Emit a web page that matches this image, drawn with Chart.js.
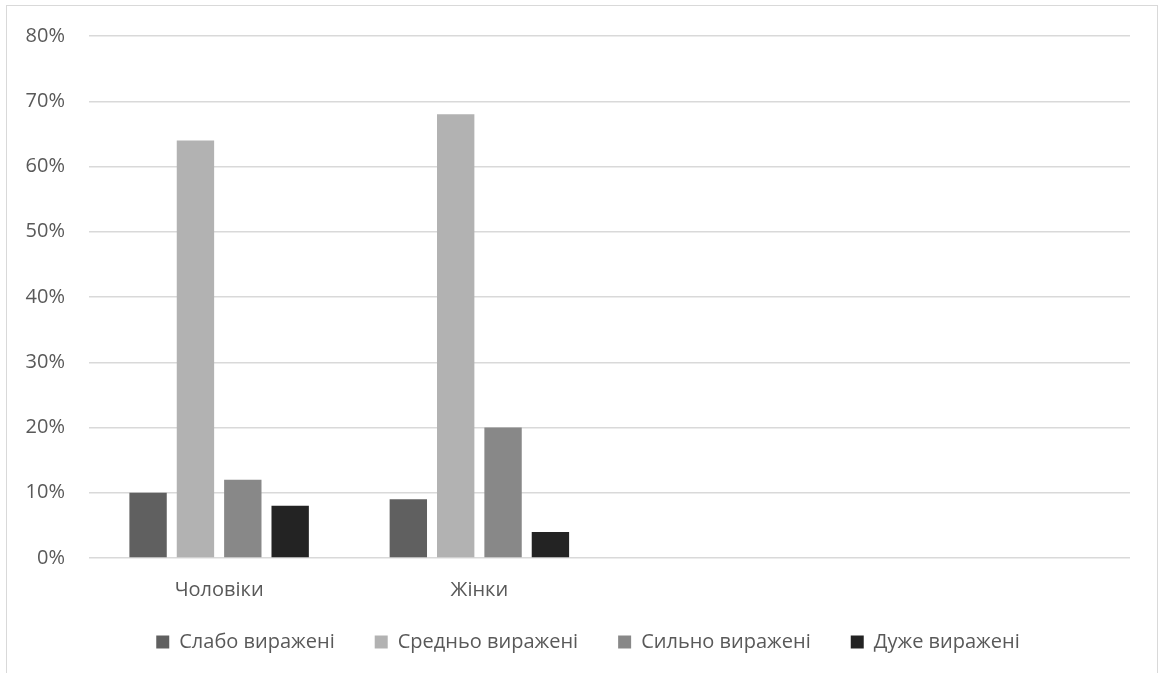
<!DOCTYPE html>
<html>
<head>
<meta charset="utf-8">
<script src="https://cdn.jsdelivr.net/npm/chart.js@4"></script>
<style>
  html, body { margin: 0; padding: 0; background: #ffffff; }
  #wrap { position: relative; width: 1164px; height: 673px; overflow: hidden; }
  #frame { position: absolute; left: 6px; top: 5px; width: 1152px; height: 720px;
           border: 1px solid #d9d9d9; box-sizing: border-box; pointer-events: none; }
  canvas { position: absolute; left: 0; top: 0; }
</style>
</head>
<body>
<div id="wrap">
  <canvas id="c" width="1164" height="673"></canvas>
  <div id="frame"></div>
</div>
<script>
// Groups along the x axis (the last two slots are empty)
const categories = ['Чоловіки', 'Жінки', '', ''];

// Share of respondents per level, in percent
const weak       = [10, 9];
const medium     = [64, 68];
const strong     = [12, 20];
const veryStrong = [8, 4];

const seriesNames = ['Слабо виражені', 'Средньо виражені', 'Сильно виражені', 'Дуже виражені'];
const seriesColors = ['#606060', '#b2b2b2', '#888888', '#232323'];

const yMax = 80;
const yStep = 10;

const textColor = '#595959';
const fontFamily = '"Open Sans", "DejaVu Sans", sans-serif';

const seriesValues = [weak, medium, strong, veryStrong];

// Nudge the legend row after layout so it sits centred under the whole frame
const legendNudge = {
  id: 'legendNudge',
  afterLayout(chart) {
    const lg = chart.legend;
    if (!lg) return;
    lg.left += 13; lg.right += 13;
    lg.top -= 11; lg.bottom -= 11;
  }
};

new Chart(document.getElementById('c'), {
  type: 'bar',
  data: {
    labels: categories,
    datasets: seriesValues.map((vals, i) => ({
      label: seriesNames[i],
      data: vals,
      backgroundColor: seriesColors[i],
      borderWidth: 0,
      categoryPercentage: 0.728,
      barPercentage: 0.789
    }))
  },
  plugins: [legendNudge],
  options: {
    responsive: false,
    animation: false,
    devicePixelRatio: 1,
    layout: { padding: { top: 34, left: 20, right: 34, bottom: 0 } },
    plugins: {
      tooltip: { enabled: false },
      legend: {
        position: 'bottom',
        labels: {
          boxWidth: 13,
          boxHeight: 13,
          padding: 40,
          color: textColor,
          font: { family: fontFamily, size: 20 }
        }
      }
    },
    scales: {
      x: {
        grid: { display: false, drawTicks: false },
        border: { display: false },
        ticks: {
          color: textColor,
          padding: 20,
          maxRotation: 0,
          font: { family: fontFamily, size: 20 }
        },
        afterFit(scale) { scale.height = 45; }
      },
      y: {
        min: 0,
        max: yMax,
        grid: { color: '#d9d9d9', lineWidth: 1.5, drawTicks: false },
        border: { display: false },
        ticks: {
          stepSize: yStep,
          padding: 24,
          color: textColor,
          font: { family: fontFamily, size: 20 },
          callback: v => v + '%'
        },
        afterFit(scale) { scale.width = 69; }
      }
    }
  }
});
</script>
</body>
</html>
